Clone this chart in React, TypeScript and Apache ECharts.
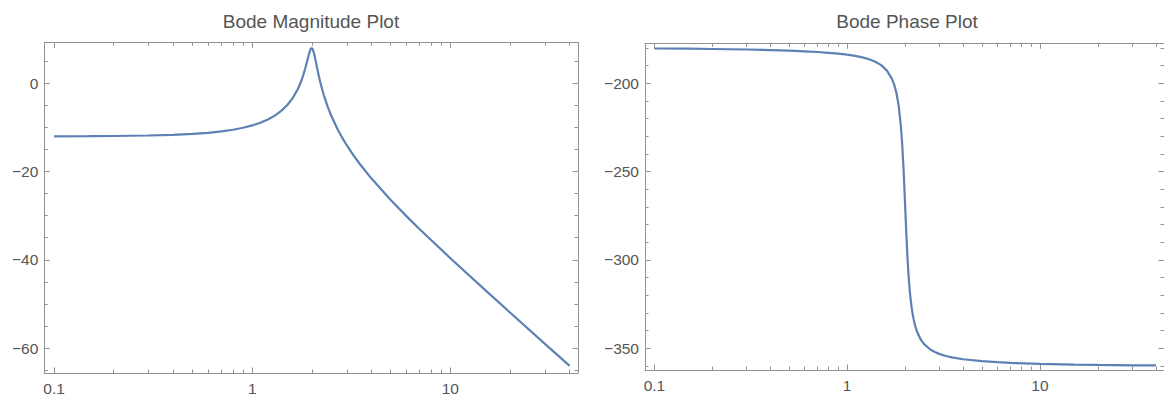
import React, { useEffect, useRef } from "react";
import * as echarts from "echarts";

// Frequencies (rad/s)
const FREQ = [
  0.1, 0.15, 0.2, 0.3, 0.4, 0.5, 0.6, 0.7, 0.8, 0.9, 1, 1.1, 1.2, 1.3, 1.4, 1.5,
  1.6, 1.7, 1.75, 1.8, 1.85, 1.9, 1.93, 1.96, 1.98, 2.0, 2.02, 2.05, 2.08, 2.12,
  2.16, 2.2, 2.25, 2.3, 2.4, 2.5, 2.7, 2.85, 3, 3.25, 3.5, 4, 5, 6, 7, 10, 15, 20,
  30, 40,
];
// Magnitude in dB
const MAG_DB = [
  -12.02, -11.99, -11.95, -11.84, -11.69, -11.48, -11.23, -10.91, -10.54, -10.09,
  -9.56, -8.94, -8.2, -7.33, -6.27, -4.99, -3.38, -1.3, -0.01, 1.5, 3.28, 5.28,
  6.48, 7.48, 7.87, 7.96, 7.7, 6.8, 5.53, 3.72, 2.01, 0.46, -1.24, -2.73, -5.22,
  -7.25, -10.46, -12.39, -14.04, -16.38, -18.36, -21.6, -26.45, -30.11, -33.07,
  -39.65, -46.89, -51.95, -59.05, -64.06,
];
// Phase in degrees
const PHASE_DEG = [
  -180.29, -180.43, -180.58, -180.88, -181.19, -181.53, -181.89, -182.28, -182.73,
  -183.23, -183.81, -184.51, -185.36, -186.42, -187.82, -189.73, -192.53, -197.03,
  -200.47, -205.35, -212.65, -224.26, -234.52, -248.0, -258.64, -270.0, -281.26,
  -296.29, -308.12, -319.39, -327.0, -332.35, -337.05, -340.37, -344.74, -347.47,
  -350.68, -352.13, -353.16, -354.34, -355.15, -356.19, -357.27, -357.85, -358.22,
  -358.81, -359.22, -359.42, -359.62, -359.71,
];

const TITLES = ["Bode Magnitude Plot", "Bode Phase Plot"];

const X_MAJOR = [0.1, 1, 10];
const X_MINOR = [
  0.2, 0.3, 0.4, 0.5, 0.6, 0.7, 0.8, 0.9, 2, 3, 4, 5, 6, 7, 8, 9, 20, 30, 40,
];
const X_RANGE = [0.0893, 44.06];

const MAG_MAJOR = [0, -20, -40, -60];
const MAG_MINOR = [5, -5, -10, -15, -25, -30, -35, -45, -50, -55, -65];
const MAG_RANGE = [-65.66, 9.28];

const PHASE_MAJOR = [-200, -250, -300, -350];
const PHASE_MINOR = [
  -180, -190, -210, -220, -230, -240, -260, -270, -280, -290, -310, -320, -330,
  -340, -360,
];
const PHASE_RANGE = [-362.28, -177.36];

const FRAME = "#929292";
const LABEL = "#555555";
const LINE = "#5e81b5";
const FONT = "Liberation Sans, Arial, sans-serif";

const fmtNum = (v: number) => {
  const n = +Number(v).toPrecision(4);
  return String(n).replace("-", "\u2212");
};

function makeAxes(
  dim: "x" | "y",
  gridIndex: number,
  range: number[],
  major: number[],
  minor: number[],
  isLog: boolean
) {
  const positions = dim === "x" ? ["bottom", "top"] : ["left", "right"];
  const out: any[] = [];
  positions.forEach((pos, pi) => {
    [true, false].forEach((isMajor) => {
      out.push({
        type: isLog ? "log" : "value",
        logBase: 10,
        gridIndex,
        position: pos,
        min: range[0],
        max: range[1],
        splitLine: { show: false },
        minorTick: { show: false },
        axisLine: {
          show: isMajor,
          onZero: false,
          lineStyle: { color: FRAME, width: 1 },
        },
        axisTick: {
          show: true,
          inside: true,
          length: isMajor ? 5.5 : 3.5,
          customValues: isMajor ? major : minor,
          lineStyle: { color: FRAME, width: 1 },
        },
        axisLabel: {
          show: isMajor && pi === 0,
          customValues: major,
          formatter: (v: number) => fmtNum(v),
          color: LABEL,
          fontSize: 15.5,
          fontFamily: FONT,
          margin: dim === "x" ? 7 : 6,
        },
      });
    });
  });
  return out;
}

export default function App() {
  const ref = useRef<HTMLDivElement>(null);
  useEffect(() => {
    if (!ref.current) return;
    const chart = echarts.init(ref.current, null, { renderer: "svg" });
    const grids = [
      { left: 44.3, top: 42.3, width: 533.7, height: 331 },
      { left: 645, top: 43.3, width: 523.5, height: 326.7 },
    ];
    const xAxis = [
      ...makeAxes("x", 0, X_RANGE, X_MAJOR, X_MINOR, true),
      ...makeAxes("x", 1, X_RANGE, X_MAJOR, X_MINOR, true),
    ];
    const yAxis = [
      ...makeAxes("y", 0, MAG_RANGE, MAG_MAJOR, MAG_MINOR, false),
      ...makeAxes("y", 1, PHASE_RANGE, PHASE_MAJOR, PHASE_MINOR, false),
    ];
    const titleStyle = {
      fill: LABEL,
      fontSize: 19,
      fontFamily: FONT,
      textAlign: "center",
      textVerticalAlign: "middle",
    };
    chart.setOption({
      animation: false,
      backgroundColor: "#ffffff",
      grid: grids,
      xAxis,
      yAxis,
      graphic: [
        { type: "text", x: 311, y: 21, style: { ...titleStyle, text: TITLES[0] } },
        { type: "text", x: 907, y: 21, style: { ...titleStyle, text: TITLES[1] } },
      ],
      series: [
        {
          type: "line",
          xAxisIndex: 0,
          yAxisIndex: 0,
          data: FREQ.map((f, i) => [f, MAG_DB[i]]),
          showSymbol: false,
          lineStyle: { color: LINE, width: 2.2 },
          itemStyle: { color: LINE },
        },
        {
          type: "line",
          xAxisIndex: 4,
          yAxisIndex: 4,
          data: FREQ.map((f, i) => [f, PHASE_DEG[i]]),
          showSymbol: false,
          lineStyle: { color: LINE, width: 2.2 },
          itemStyle: { color: LINE },
        },
      ],
    });
    return () => chart.dispose();
  }, []);
  return (
    <div
      ref={ref}
      style={{ position: "absolute", left: 0, top: 0, width: 1164, height: 396 }}
    />
  );
}
